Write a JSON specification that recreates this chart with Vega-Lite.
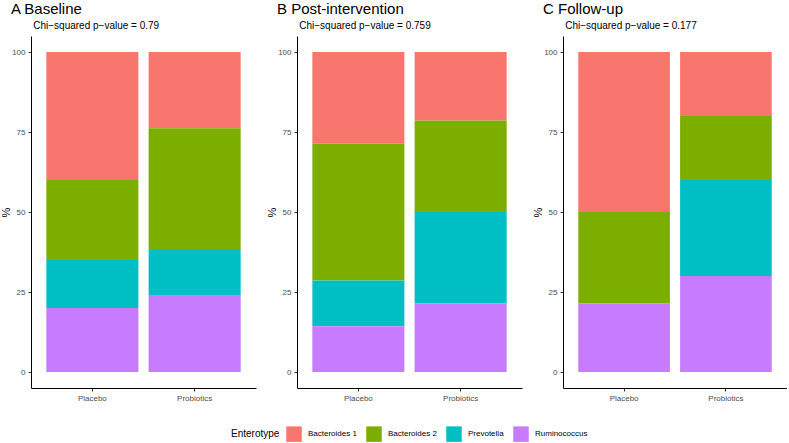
{
  "$schema": "https://vega.github.io/schema/vega-lite/v6.json",
  "padding": {"left": 0, "top": 2, "right": 0, "bottom": 0},
  "datasets": {
    "ent": [
      {"panel": "A", "group": "Placebo", "Enterotype": "Bacteroides 1", "pct": 40},
      {"panel": "A", "group": "Placebo", "Enterotype": "Bacteroides 2", "pct": 25},
      {"panel": "A", "group": "Placebo", "Enterotype": "Prevotella", "pct": 15},
      {"panel": "A", "group": "Placebo", "Enterotype": "Ruminococcus", "pct": 20},
      {"panel": "A", "group": "Probiotics", "Enterotype": "Bacteroides 1", "pct": 23.8},
      {"panel": "A", "group": "Probiotics", "Enterotype": "Bacteroides 2", "pct": 38.1},
      {"panel": "A", "group": "Probiotics", "Enterotype": "Prevotella", "pct": 14.3},
      {"panel": "A", "group": "Probiotics", "Enterotype": "Ruminococcus", "pct": 23.8},
      {"panel": "B", "group": "Placebo", "Enterotype": "Bacteroides 1", "pct": 28.6},
      {"panel": "B", "group": "Placebo", "Enterotype": "Bacteroides 2", "pct": 42.8},
      {"panel": "B", "group": "Placebo", "Enterotype": "Prevotella", "pct": 14.3},
      {"panel": "B", "group": "Placebo", "Enterotype": "Ruminococcus", "pct": 14.3},
      {"panel": "B", "group": "Probiotics", "Enterotype": "Bacteroides 1", "pct": 21.4},
      {"panel": "B", "group": "Probiotics", "Enterotype": "Bacteroides 2", "pct": 28.6},
      {"panel": "B", "group": "Probiotics", "Enterotype": "Prevotella", "pct": 28.6},
      {"panel": "B", "group": "Probiotics", "Enterotype": "Ruminococcus", "pct": 21.4},
      {"panel": "C", "group": "Placebo", "Enterotype": "Bacteroides 1", "pct": 50},
      {"panel": "C", "group": "Placebo", "Enterotype": "Bacteroides 2", "pct": 28.6},
      {"panel": "C", "group": "Placebo", "Enterotype": "Ruminococcus", "pct": 21.4},
      {"panel": "C", "group": "Probiotics", "Enterotype": "Bacteroides 1", "pct": 20},
      {"panel": "C", "group": "Probiotics", "Enterotype": "Bacteroides 2", "pct": 20},
      {"panel": "C", "group": "Probiotics", "Enterotype": "Prevotella", "pct": 30},
      {"panel": "C", "group": "Probiotics", "Enterotype": "Ruminococcus", "pct": 30}
    ]
  },
  "data": {"name": "ent"},
  "spacing": 10,
  "hconcat": [
    {
      "width": 225, "height": 352,
      "title": {"text": "A Baseline", "subtitle": "\u200b\u00a0\u00a0\u00a0\u00a0\u00a0\u00a0\u00a0\u00a0Chi\u2212squared p\u2212value = 0.79"},
      "transform": [{"filter": "datum.panel === 'A'"}],
      "mark": {"type": "bar"},
      "encoding": {
        "x": {"field": "group", "type": "nominal", "title": null, "scale": {"paddingInner": 0.1, "paddingOuter": 0.15}, "axis": {"labelAngle": 0}},
        "y": {"field": "pct", "type": "quantitative", "stack": "zero", "title": "%", "scale": {"domain": [-5, 105], "nice": false, "zero": false}, "axis": {"values": [0, 25, 50, 75, 100]}},
        "color": {"field": "Enterotype", "type": "nominal"},
        "order": {"field": "Enterotype", "sort": "descending"}
      }
    },
    {
      "width": 225, "height": 352,
      "title": {"text": "B Post-intervention", "subtitle": "\u200b\u00a0\u00a0\u00a0\u00a0\u00a0\u00a0\u00a0\u00a0Chi\u2212squared p\u2212value = 0.759"},
      "transform": [{"filter": "datum.panel === 'B'"}],
      "mark": {"type": "bar"},
      "encoding": {
        "x": {"field": "group", "type": "nominal", "title": null, "scale": {"paddingInner": 0.1, "paddingOuter": 0.15}, "axis": {"labelAngle": 0}},
        "y": {"field": "pct", "type": "quantitative", "stack": "zero", "title": "%", "scale": {"domain": [-5, 105], "nice": false, "zero": false}, "axis": {"values": [0, 25, 50, 75, 100]}},
        "color": {"field": "Enterotype", "type": "nominal"},
        "order": {"field": "Enterotype", "sort": "descending"}
      }
    },
    {
      "width": 224, "height": 352,
      "title": {"text": "C Follow-up", "subtitle": "\u200b\u00a0\u00a0\u00a0\u00a0\u00a0\u00a0\u00a0\u00a0Chi\u2212squared p\u2212value = 0.177"},
      "transform": [{"filter": "datum.panel === 'C'"}],
      "mark": {"type": "bar"},
      "encoding": {
        "x": {"field": "group", "type": "nominal", "title": null, "scale": {"paddingInner": 0.1, "paddingOuter": 0.15}, "axis": {"labelAngle": 0}},
        "y": {"field": "pct", "type": "quantitative", "stack": "zero", "title": "%", "scale": {"domain": [-5, 105], "nice": false, "zero": false}, "axis": {"values": [0, 25, 50, 75, 100]}},
        "color": {"field": "Enterotype", "type": "nominal"},
        "order": {"field": "Enterotype", "sort": "descending"}
      }
    }
  ],
  "resolve": {"scale": {"color": "shared"}},
  "config": {
    "font": "Liberation Sans",
    "view": {"stroke": null},
    "range": {"category": ["#F8766D", "#7CAE00", "#00BFC4", "#C77CFF"]},
    "axis": {
      "grid": false,
      "domainColor": "#000000",
      "domainWidth": 1,
      "tickColor": "#333333",
      "tickSize": 3,
      "labelColor": "#4d4d4d",
      "labelFontSize": 8,
      "labelPadding": 3,
      "titlePadding": 0,
      "titleFontWeight": "normal",
      "titleFontSize": 11,
      "titleColor": "#000000"
    },
    "title": {
      "anchor": "start",
      "frame": "group",
      "fontWeight": "normal",
      "fontSize": 15,
      "subtitleFontSize": 10,
      "subtitleColor": "#000000",
      "subtitlePadding": 4,
      "dx": -20,
      "offset": 5
    },
    "legend": {
      "orient": "none",
      "legendX": 200,
      "legendY": 390,
      "direction": "horizontal",
      "titleOrient": "left",
      "titleFontWeight": "normal",
      "titleFontSize": 10,
      "titleColor": "#000000",
      "titlePadding": 6,
      "labelFontSize": 8,
      "labelColor": "#000000",
      "symbolType": "square",
      "symbolSize": 240,
      "symbolStrokeWidth": 0,
      "symbolOpacity": 1,
      "columnPadding": 9,
      "labelOffset": 6
    }
  }
}
